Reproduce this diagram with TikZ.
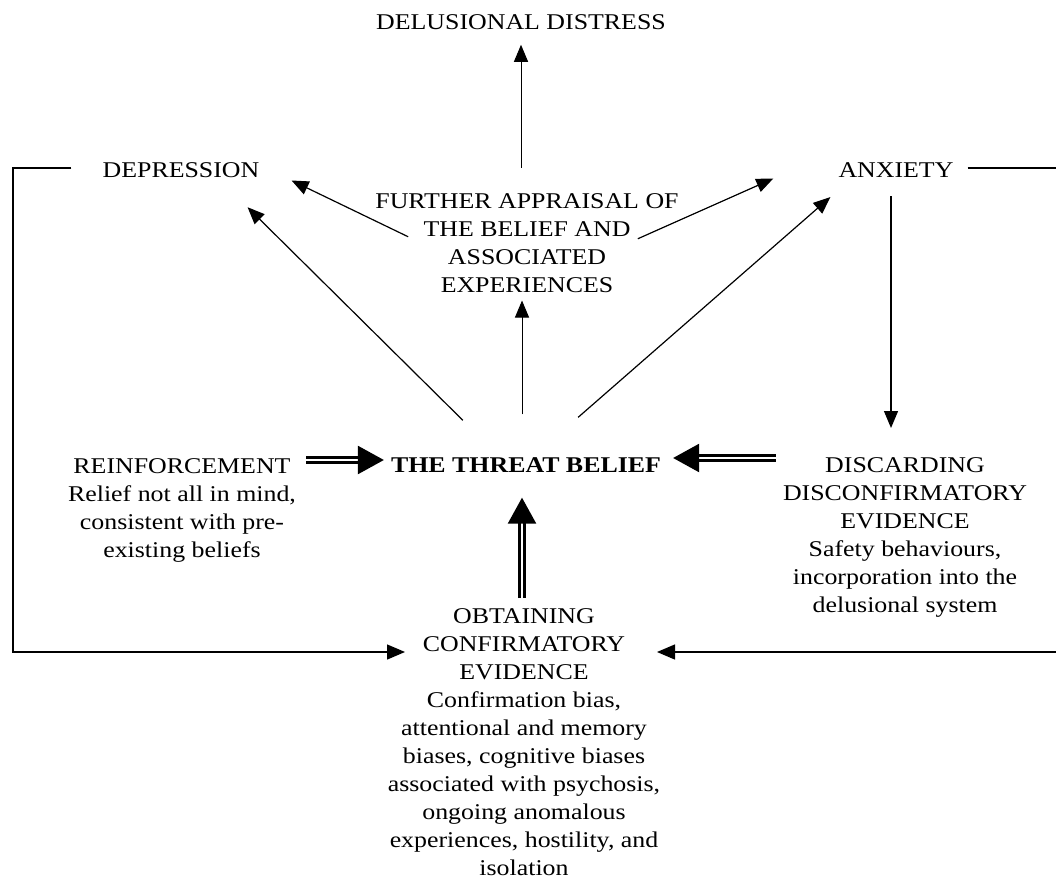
\documentclass[tikz,border=0pt]{standalone}
\usepackage{fontspec}
\setmainfont{Liberation Serif}[FakeStretch=1.15]
\usetikzlibrary{arrows.meta,calc}
\begin{document}
\begin{tikzpicture}[x=1pt,y=-1pt,
  lbl/.style={inner sep=0pt, font=\fontsize{22.5pt}{28pt}\selectfont, align=center},
  arr/.style={line width=1.2pt, -{Triangle[length=17pt,width=14pt]}},
  dbl/.style={double, line width=2.4pt, double distance=2.4pt, -{Triangle[length=26pt,width=28pt]}},
  frameline/.style={line width=1.3pt, -{Triangle[length=18pt,width=15pt]}}]
\useasboundingbox[fill=white] (0,0) rectangle (1056,893);

\node[lbl] (distress) at (521,22) {DELUSIONAL DISTRESS};
\node[lbl] (depression) at (181,170.5) {DEPRESSION};
\node[lbl] (anxiety) at (896,170.5) {ANXIETY};
\node[lbl, anchor=north] (appraisal) at (527,193) {FURTHER APPRAISAL OF\\THE BELIEF AND\\ASSOCIATED\\EXPERIENCES};
\node[lbl, font=\fontsize{22.5pt}{28pt}\selectfont\bfseries] (threat) at (526,465) {THE THREAT BELIEF};
\node[lbl, anchor=north] (reinforce) at (182,458.5) {REINFORCEMENT\\Relief not all in mind,\\consistent with pre-\\existing beliefs};
\node[lbl, anchor=north] (discard) at (905,457) {DISCARDING\\DISCONFIRMATORY\\EVIDENCE\\Safety behaviours,\\incorporation into the\\delusional system};
\node[lbl, anchor=north] (obtain) at (524,608) {OBTAINING\\CONFIRMATORY\\EVIDENCE\\Confirmation bias,\\attentional and memory\\biases, cognitive biases\\associated with psychosis,\\ongoing anomalous\\experiences, hostility, and\\isolation};

% thin arrows
\draw[arr, line width=1pt] ($(distress.south |- appraisal.north)+(0,-25)$) -- ($(distress.south)+(0,15)$);
\draw[arr] ($(appraisal.west)+(33,-6)$) -- ($(depression.east)+(32,10)$);
\draw[arr] ($(appraisal.east)+(-41,-4)$) -- ($(anxiety.west)+(-65,8)$);
\draw[arr] ($(threat.north west)+(72,-37)$) -- ($(depression.south east)+(-12,29)$);
\draw[arr] ($(threat.north east)+(-83,-40)$) -- ($(anxiety.south west)+(-8,19)$);
\draw[arr, line width=1pt] ($(threat.north)+(-4,-43)$) -- ($(appraisal.south)+(-5,8)$);
\draw[arr] ($(anxiety.south)+(-5,18)$) -- ($(anxiety.south |- discard.north)+(-5,-29)$);

% double arrows
\draw[dbl] ($(reinforce.north east)+(10,1.5)$) -- ($(threat.west)+(-7,-5)$);
\draw[dbl] ($(discard.north west)+(-7,1)$) -- ($(threat.east)+(12,-7)$);
\draw[dbl] ($(obtain.north)+(-2,-10)$) -- ($(threat.south)+(-4,25)$);

% feedback frame
\coordinate (lc) at (13,168);
\coordinate (rc) at (1062,168);
\coordinate (obtL) at ($(obtain.north)+(-119,44)$);
\coordinate (obtR) at ($(obtain.north)+(133,44)$);
\draw[frameline] ($(depression.west)+(-31,-2.5)$) -- (lc) |- (obtL);
\draw[frameline] ($(anxiety.east)+(14,-2.5)$) -- (rc) |- (obtR);
\end{tikzpicture}
\end{document}
